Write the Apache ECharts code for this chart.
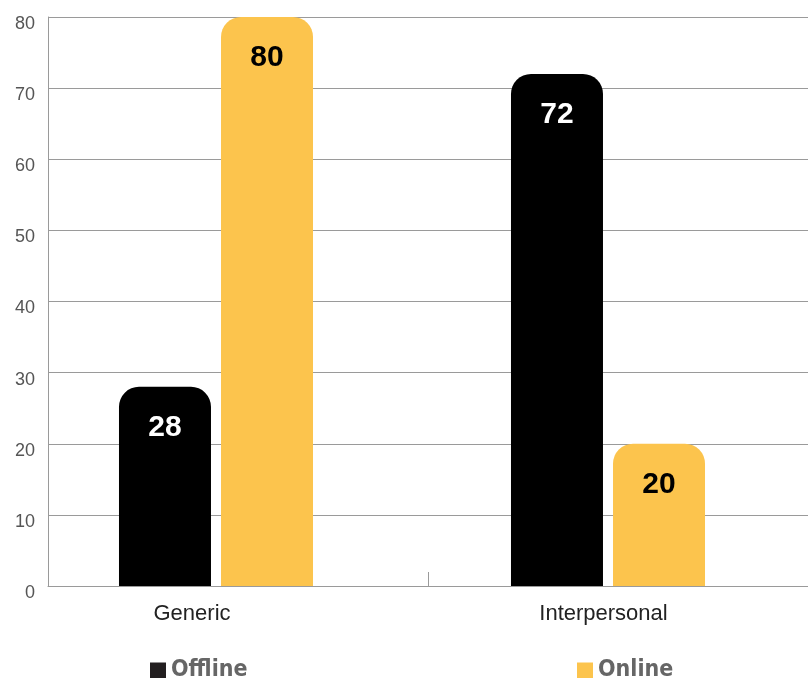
<!DOCTYPE html>
<html><head><meta charset="utf-8">
<script src="https://cdn.jsdelivr.net/npm/echarts@6/dist/echarts.min.js"></script>
<style>html,body{margin:0;padding:0;background:#fff}#c{width:808px;height:678px}</style>
</head><body><div id="c"></div>
<script>
const categories = ['Generic', 'Interpersonal'];
const offline = [28, 72];
const online = [80, 20];
const seriesNames = ['Offline', 'Online'];
const yMin = 0, yMax = 80, yStep = 10;

const chart = echarts.init(document.getElementById('c'), null, {renderer: 'canvas'});
const gridColor = '#9a9a9a';
const labelPad = {Generic: 48, Interpersonal: 9};
const legendText = {fontFamily: 'DejaVu Sans Condensed', fontWeight: 'bold', fontSize: 23, color: '#666'};
const catFont = {fontFamily: 'Liberation Sans', fontSize: 22, color: '#222'};
chart.setOption({
  animation: false,
  grid: [
    {left: 20, right: 4, top: 17, bottom: 92},
    {left: 48, right: 0, top: 17, bottom: 92}
  ],
  legend: [
    {data: [{name: seriesNames[0], itemStyle: {color: '#231f20'}}], left: 150, top: 659, padding: 0, itemWidth: 16, itemHeight: 16, itemGap: 0, itemTextGap: 7,
     icon: 'rect', textStyle: legendText},
    {data: [seriesNames[1]], left: 577, top: 659, padding: 0, itemWidth: 16, itemHeight: 16, itemGap: 0, itemTextGap: 7,
     icon: 'rect', textStyle: legendText}
  ],
  xAxis: [
    {type: 'category', gridIndex: 0, data: categories,
     axisLine: {show: false}, axisTick: {show: false},
     axisLabel: Object.assign({margin: 17,
       formatter: v => '{' + (v === 'Generic' ? 'g' : 'i') + '|' + v + '}',
       rich: {g: Object.assign({padding: [0, labelPad.Generic, 0, 0]}, catFont),
              i: Object.assign({padding: [0, labelPad.Interpersonal, 0, 0]}, catFont)}}, catFont)},
    {type: 'category', gridIndex: 1, data: categories, boundaryGap: true,
     axisLine: {show: true, lineStyle: {color: gridColor, width: 1}},
     axisTick: {show: true, inside: true, length: 14, lineStyle: {color: gridColor}},
     axisLabel: {show: false}}
  ],
  yAxis: [
    {type: 'value', gridIndex: 0, min: yMin, max: yMax, interval: yStep, show: false, splitLine: {show: false}},
    {type: 'value', gridIndex: 1, min: yMin, max: yMax, interval: yStep,
     axisLine: {show: true, lineStyle: {color: gridColor}},
     axisTick: {show: false},
     splitLine: {show: true, lineStyle: {color: gridColor, width: 1}},
     axisLabel: {margin: 13, fontFamily: 'Liberation Sans', fontSize: 18, color: '#555',
       formatter: '{a|{value}}',
       rich: {a: {padding: [14, 0, 0, 0], fontFamily: 'Liberation Sans', fontSize: 18, color: '#555'}}}}
  ],
  series: [
    {name: seriesNames[0], type: 'bar', xAxisIndex: 0, yAxisIndex: 0, data: offline,
     barWidth: 92, barGap: '10.9%',
     itemStyle: {color: '#000', borderRadius: [20, 20, 0, 0]},
     label: {show: true, position: 'insideTop', distance: 26, color: '#fff', fontFamily: 'Liberation Sans', fontWeight: 'bold', fontSize: 30}},
    {name: seriesNames[1], type: 'bar', xAxisIndex: 0, yAxisIndex: 0, data: online,
     barWidth: 92, barGap: '10.9%',
     itemStyle: {color: '#FCC44D', borderRadius: [20, 20, 0, 0]},
     label: {show: true, position: 'insideTop', distance: 26, color: '#000', fontFamily: 'Liberation Sans', fontWeight: 'bold', fontSize: 30}}
  ]
});
</script></body></html>
